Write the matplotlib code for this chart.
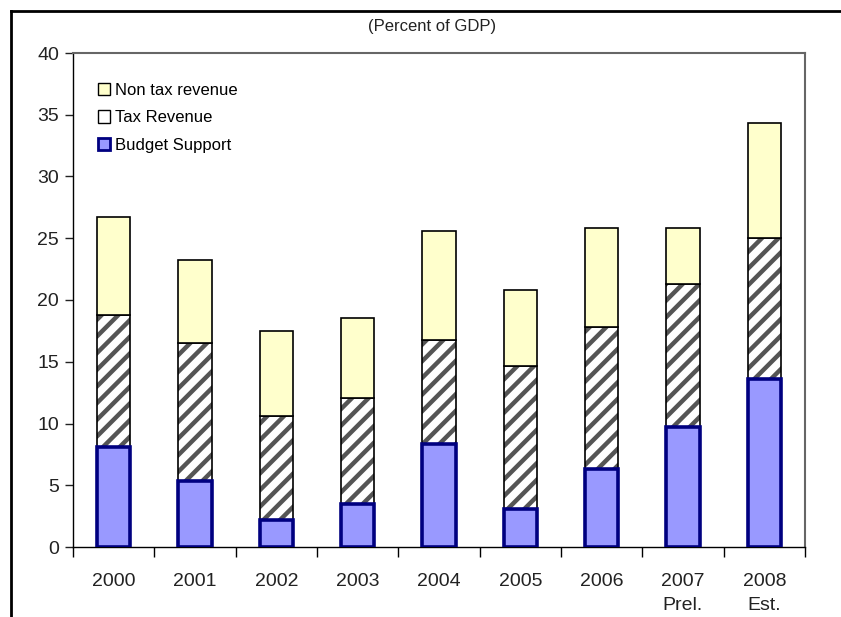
import numpy as np
import matplotlib
matplotlib.use("Agg")
import matplotlib.pyplot as plt
from matplotlib.lines import Line2D
from matplotlib.patches import Patch

plt.rcParams["font.family"] = ["Liberation Sans", "DejaVu Sans"]

# data (percent of GDP)
years = ["2000", "2001", "2002", "2003", "2004", "2005", "2006", "2007\nPrel.", "2008\nEst."]
budget_support = [8.1, 5.35, 2.2, 3.5, 8.3, 3.1, 6.35, 9.7, 13.6]
tax_revenue = [10.7, 11.15, 8.4, 8.6, 8.5, 11.55, 11.45, 11.6, 11.4]
non_tax_revenue = [7.9, 6.7, 6.9, 6.45, 8.8, 6.15, 8.0, 4.5, 9.3]

budget_face = "#9999FF"
budget_edge = "#000080"
nontax_face = "#FFFFCC"
hatch_grey = "#555555"

plt.rcParams["hatch.linewidth"] = 3.2

fig = plt.figure(figsize=(8.41, 6.17), dpi=100)
ax = fig.add_axes([73 / 841, 1 - 547 / 617, (805 - 73) / 841, (547 - 53) / 617])

x = np.arange(len(years))
width = 0.41
budget = np.array(budget_support)
tax = np.array(tax_revenue)
nontax = np.array(non_tax_revenue)

# tax revenue: hatch in grey, then a thin black outline on top
ax.bar(x, tax, width, bottom=budget, color="white", edgecolor=hatch_grey,
       hatch="//", linewidth=0, zorder=2)
ax.bar(x, tax, width, bottom=budget, color="none", edgecolor="black",
       linewidth=1.2, zorder=3)
ax.bar(x, nontax, width, bottom=budget + tax, color=nontax_face,
       edgecolor="black", linewidth=1.2, zorder=3)
ax.bar(x, budget, width, color=budget_face, edgecolor=budget_edge,
       linewidth=2.6, zorder=4)

ax.set_xlim(-0.5, len(years) - 0.5)
ax.set_ylim(0, 40)
ax.set_yticks(np.arange(0, 41, 5))
ax.tick_params(axis="y", direction="out", length=6, width=1, pad=4,
               labelsize=14, colors="#222222")

ax.set_xticks(x)
ax.set_xticklabels(years, fontsize=14, color="#222222", linespacing=1.5)
ax.tick_params(axis="x", which="major", length=0, pad=19)
ax.set_xticks(np.arange(-0.5, len(years)), minor=True)
ax.tick_params(axis="x", which="minor", direction="out", length=7, width=1)

for side in ["left", "bottom"]:
    ax.spines[side].set_color("black")
    ax.spines[side].set_linewidth(1)
for side in ["top", "right"]:
    ax.spines[side].set_color("#666666")
    ax.spines[side].set_linewidth(1.5)

handles = [
    Patch(facecolor=nontax_face, edgecolor="black", linewidth=1),
    Patch(facecolor="white", edgecolor="black", linewidth=1),
    Patch(facecolor=budget_face, edgecolor=budget_edge, linewidth=2),
]
labels = ["Non tax revenue", "Tax Revenue", "Budget Support"]
ax.legend(handles, labels, loc="upper left", bbox_to_anchor=(0.025, 0.953),
          frameon=False, fontsize=12, handlelength=0.75, handleheight=0.75,
          handletextpad=0.3, labelspacing=0.75, borderaxespad=0)

fig.text(432 / 841, 1 - 27 / 617, "(Percent of GDP)", ha="center", va="center",
         fontsize=12, color="#222222")

# outer page frame (top and left edges only)
fig.add_artist(Line2D([11 / 841, 1], [1 - 11 / 617, 1 - 11 / 617],
                      transform=fig.transFigure, color="black", linewidth=2))
fig.add_artist(Line2D([11 / 841, 11 / 841], [0, 1 - 11 / 617],
                      transform=fig.transFigure, color="black", linewidth=2))

fig.savefig("out.png", dpi=100)
